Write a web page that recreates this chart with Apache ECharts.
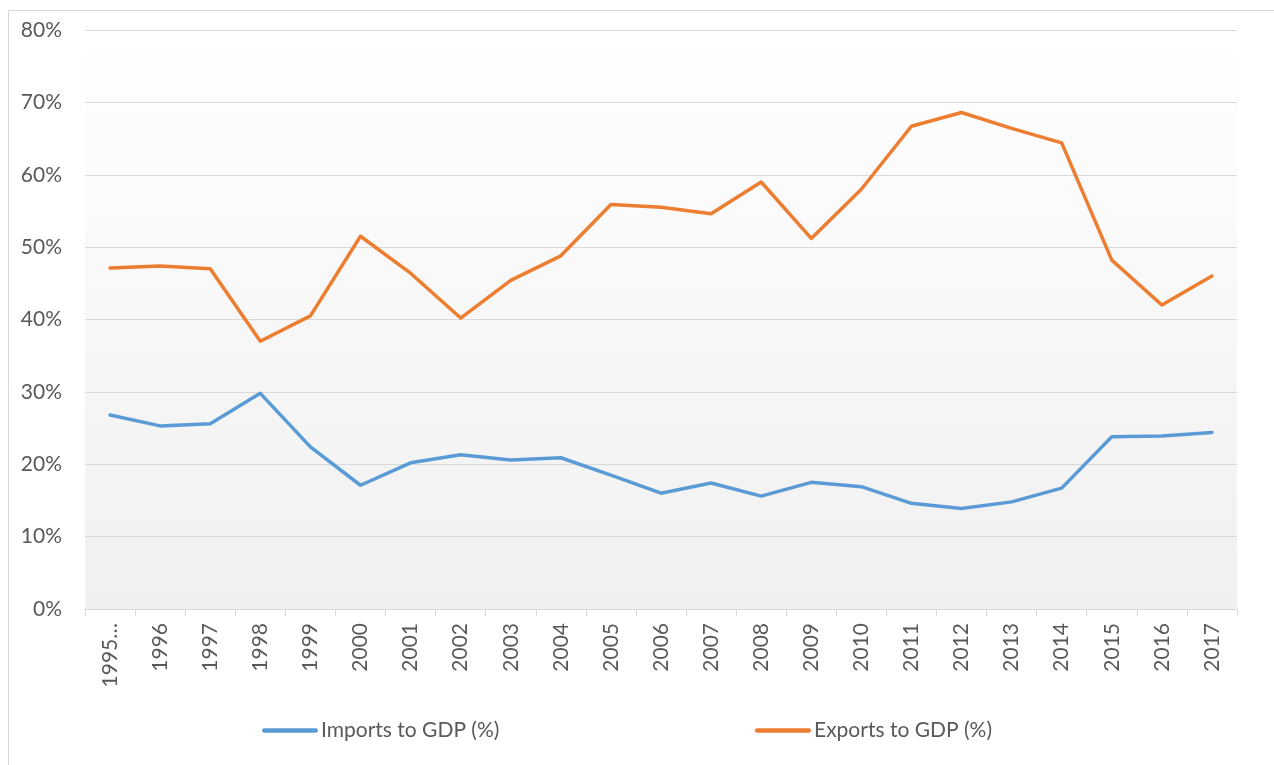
<!DOCTYPE html>
<html>
<head>
<meta charset="utf-8">
<script src="https://cdn.jsdelivr.net/npm/echarts@6/dist/echarts.min.js"></script>
<style>
  html, body { margin: 0; padding: 0; background: #fff; }
  #chart { width: 1274px; height: 765px; }
</style>
</head>
<body>
<div id="chart"></div>
<script>
// years (first label is truncated in the source)
var years = ['1995…', '1996', '1997', '1998', '1999', '2000', '2001', '2002', '2003', '2004', '2005',
  '2006', '2007', '2008', '2009', '2010', '2011', '2012', '2013', '2014', '2015', '2016', '2017'];

// imports to GDP, %
var imports = [26.8, 25.3, 25.6, 29.8, 22.4, 17.1, 20.2, 21.3, 20.6, 20.9, 18.5,
  16.0, 17.4, 15.6, 17.5, 16.9, 14.6, 13.9, 14.8, 16.7, 23.8, 23.9, 24.4];

// exports to GDP, %
var exports_ = [47.1, 47.4, 47.0, 37.0, 40.5, 51.5, 46.4, 40.2, 45.4, 48.8, 55.9,
  55.5, 54.6, 59.0, 51.2, 58.0, 66.7, 68.6, 66.4, 64.4, 48.2, 42.0, 46.0];

var yTicks = [0, 10, 20, 30, 40, 50, 60, 70, 80];

var font = 'Lato, "Open Sans", sans-serif';
var txt = '#595959';
var gridCol = '#d9d9d9';
var lineIcon = 'path://M2,0 L54,0 A2.2,2.2 0 0 1 54,4.4 L2,4.4 A2.2,2.2 0 0 1 2,0 Z';

function legendAt(left, name) {
  return {
    top: 715,
    left: left,
    itemWidth: 56,
    itemHeight: 22,
    icon: lineIcon,
    textStyle: { fontSize: 21, color: txt, fontFamily: font, padding: [0, 0, 0, -2] },
    data: [name]
  };
}

var myChart = echarts.init(document.getElementById('chart'));
var option = {
  animation: false,
  textStyle: { fontFamily: font },
  graphic: [{
    type: 'rect',
    shape: { x: 8.5, y: 10.5, width: 1300, height: 800 },
    style: { fill: 'none', stroke: gridCol, lineWidth: 1 },
    silent: true
  }],
  grid: {
    left: 85, right: 37, top: 30, bottom: 156,
    show: true,
    borderWidth: 0,
    backgroundColor: {
      type: 'linear', x: 0, y: 0, x2: 0, y2: 1,
      colorStops: [
        { offset: 0, color: '#ffffff' },
        { offset: 0.125, color: '#fdfdfd' },
        { offset: 1, color: '#f0f0f0' }
      ]
    }
  },
  legend: [legendAt(257, 'Imports to GDP (%)'), legendAt(750, 'Exports to GDP (%)')],
  xAxis: {
    type: 'category',
    data: years,
    boundaryGap: true,
    axisLine: { lineStyle: { color: gridCol, width: 1 } },
    axisTick: { show: true, length: 7, lineStyle: { color: gridCol } },
    axisLabel: { rotate: 90, color: txt, fontSize: 21, margin: 14, interval: 0 }
  },
  yAxis: {
    type: 'value',
    min: yTicks[0],
    max: yTicks[yTicks.length - 1],
    interval: 10,
    axisLine: { show: false },
    axisTick: { show: false },
    splitLine: { lineStyle: { color: gridCol, width: 1 } },
    axisLabel: {
      color: txt, fontSize: 21, margin: 23,
      formatter: function (v) { return v + '%'; }
    }
  },
  series: [
    {
      name: 'Imports to GDP (%)',
      type: 'line',
      data: imports,
      symbol: 'none',
      color: '#5b9bd5',
      lineStyle: { width: 3.5, color: '#5b9bd5', cap: 'round', join: 'round' }
    },
    {
      name: 'Exports to GDP (%)',
      type: 'line',
      data: exports_,
      symbol: 'none',
      color: '#ed7d31',
      lineStyle: { width: 3.5, color: '#ed7d31', cap: 'round', join: 'round' }
    }
  ]
};
myChart.setOption(option);
</script>
</body>
</html>
